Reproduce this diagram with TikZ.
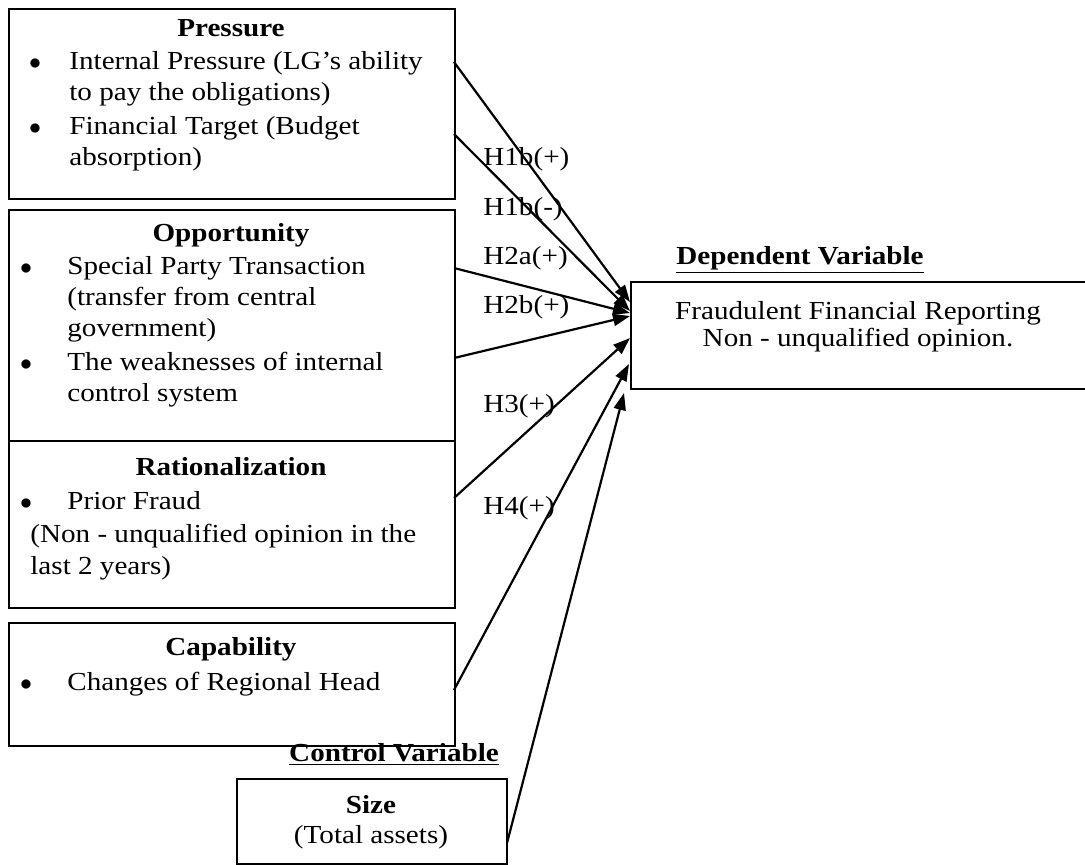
\documentclass[tikz,border=0pt]{standalone}
\usepackage{fontspec}
\setmainfont[FakeStretch=1.12]{Liberation Serif}
\usetikzlibrary{arrows.meta}
\newcommand{\fsz}{\fontsize{13}{15}\selectfont}
\tikzset{
  box/.style={draw, line width=1pt, anchor=north west, inner sep=0pt},
  txt/.style={font=\fsz, inner sep=0pt, anchor=base west},
  ttl/.style={font=\fsz\bfseries, inner sep=0pt, anchor=base},
  ctr/.style={font=\fsz, inner sep=0pt, anchor=base},
  bul/.style={font=\fsz, inner sep=0pt, anchor=base},
  arr/.style={line width=1.1pt, -{Triangle[length=8.5pt,width=6pt]}},
}
\begin{document}
\begin{tikzpicture}[x=0.5pt,y=-0.5pt]
\useasboundingbox (0,0) rectangle (1085,864);
\clip (0,0) rectangle (1085,864);
% boxes
\node[box, minimum width=223pt, minimum height=95pt] (press) at (8,8) {};
\node[box, minimum width=223pt, minimum height=115.5pt] (opp) at (8,209) {};
\node[box, minimum width=223pt, minimum height=83.5pt] (rat) at (8,440) {};
\node[box, minimum width=223pt, minimum height=61.5pt] (cap) at (8,622) {};
\node[box, minimum width=135pt, minimum height=42.5pt] (size) at (236,778) {};
\node[box, minimum width=240pt, minimum height=53.5pt] (dep) at (630,281) {};
% pressure
\node[ttl] (tpress) at (231,36) {Pressure};
\node[bul] (bp1) at (35,69) {$\bullet$};
\node[txt] (p1) at (69,69) {Internal Pressure (LG’s ability};
\node[txt] (p2) at (69,100) {to pay the obligations)};
\node[bul] (bp2) at (35,134) {$\bullet$};
\node[txt] (p3) at (69,134) {Financial Target (Budget};
\node[txt] (p4) at (69,165) {absorption)};
% opportunity
\node[ttl] (topp) at (231,241) {Opportunity};
\node[bul] (bo1) at (26,274) {$\bullet$};
\node[txt] (o1) at (67,274) {Special Party Transaction};
\node[txt] (o2) at (67,305) {(transfer from central};
\node[txt] (o3) at (67,336) {government)};
\node[bul] (bo2) at (26,370) {$\bullet$};
\node[txt] (o4) at (67,370) {The weaknesses of internal};
\node[txt] (o5) at (67,401) {control system};
% rationalization
\node[ttl] (trat) at (231,475) {Rationalization};
\node[bul] (br1) at (26,509) {$\bullet$};
\node[txt] (r1) at (67,509) {Prior Fraud};
\node[txt] (r2) at (30,542) {(Non - unqualified opinion in the};
\node[txt] (r3) at (30,574) {last 2 years)};
% capability
\node[ttl] (tcap) at (231,655) {Capability};
\node[bul] (bc1) at (26,690) {$\bullet$};
\node[txt] (c1) at (67,690) {Changes of Regional Head};
% control
\node[ttl] (tctrl) at (394,761) {\underline{Control Variable}};
\node[ttl] (tsize) at (371,813) {Size};
\node[ctr] (s1) at (371,843) {(Total assets)};
% dependent
\node[ttl] (tdep) at (800,264) {\underline{Dependent Variable}};
\node[ctr] (d1) at (858,319) {Fraudulent Financial Reporting};
\node[ctr] (d2) at (858,346) {Non - unqualified opinion.};
% hypothesis labels
\node[txt] (h1) at (483,165) {H1b(+)};
\node[txt] (h2) at (483,215) {H1b(-)};
\node[txt] (h3) at (483,264) {H2a(+)};
\node[txt] (h4) at (483,313) {H2b(+)};
\node[txt] (h5) at (483,412) {H3(+)};
\node[txt] (h6) at (483,514) {H4(+)};
% connector endpoints
\coordinate (s-a1) at (454,62);
\coordinate (s-a2) at (454,134);
\coordinate (s-a3) at (454,268);
\coordinate (s-a4) at (454,358);
\coordinate (s-a5) at (454,498);
\coordinate (s-a6) at (454,690);
\coordinate (s-a7) at (507,843);
\coordinate (e-a1) at (630,302);
\coordinate (e-a2) at (630,311);
\coordinate (e-a3) at (630,313);
\coordinate (e-a4) at (630,316);
\coordinate (e-a5) at (630,338);
\coordinate (e-a6) at (629,364);
\coordinate (e-a7) at (624,393);
\draw[arr] (s-a1) -- (e-a1);
\draw[arr] (s-a2) -- (e-a2);
\draw[arr] (s-a3) -- (e-a3);
\draw[arr] (s-a4) -- (e-a4);
\draw[arr] (s-a5) -- (e-a5);
\draw[arr] (s-a6) -- (e-a6);
\draw[arr] (s-a7) -- (e-a7);
\end{tikzpicture}
\end{document}
